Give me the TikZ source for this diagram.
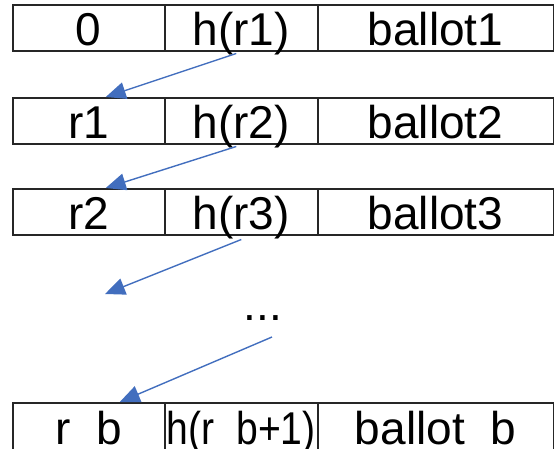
\documentclass[tikz,border=0pt]{standalone}
\usepackage{fontspec}
\setmainfont{Liberation Sans}
\usetikzlibrary{arrows.meta,calc}
\definecolor{linkblue}{RGB}{66,110,190}
\tikzset{
  cell/.style={draw=black!85, line width=1.5pt, anchor=north west,
    minimum height=46pt, inner sep=0pt, text height=36pt, text depth=0pt,
    font=\fontsize{46}{50}\selectfont},
  lastcell/.style={cell, minimum height=52pt, text height=32pt},
  link/.style={draw=linkblue, line width=1.4pt,
    -{Triangle[length=20pt,width=17pt]}},
}
\begin{document}
\begin{tikzpicture}[x=1pt,y=1pt]
\useasboundingbox (0,0) rectangle (554,-448);
\clip (0,0) rectangle (554,-448);
% record 1
\node[cell, minimum width=152pt] (a1) at (12,-4) {0};
\node[cell, minimum width=153pt] (h1) at (164,-4) {h(r1)};
\node[cell, minimum width=235.5pt] (b1) at (317,-4) {ballot1};
% record 2
\node[cell, minimum width=152pt] (a2) at (12,-97) {r1};
\node[cell, minimum width=153pt] (h2) at (164,-97) {h(r2)};
\node[cell, minimum width=235.5pt] (b2) at (317,-97) {ballot2};
% record 3
\node[cell, minimum width=152pt] (a3) at (12,-188) {r2};
\node[cell, minimum width=153pt] (h3) at (164,-188) {h(r3)};
\node[cell, minimum width=235.5pt] (b3) at (317,-188) {ballot3};
% elided records
\node[font=\fontsize{46}{50}\selectfont, inner sep=0pt] (dots) at (263,-318) {...};
\coordinate (gapend) at (105,-294);
\coordinate (gapstart) at (272,-337);
% last record
\node[lastcell, minimum width=152pt] (a4) at (12,-402) {r\_b};
\node[lastcell, minimum width=153pt] (h4) at (164,-402)
  {\scalebox{0.85}[1]{h(r\_b+1)}};
\node[lastcell, minimum width=235.5pt] (b4) at (317,-402) {ballot\_b};
% hash links to the previous record
\draw[link] ($(h1.south)+(-5,-2)$) -- ($(a2.north)+(17,0)$);
\draw[link] ($(h2.south)+(-5,-2)$) -- ($(a3.north)+(17,0)$);
\draw[link] ($(h3.south)+(0,-4)$) -- (gapend);
\draw[link] (gapstart) -- ($(a4.north)+(31,0)$);
\end{tikzpicture}
\end{document}
